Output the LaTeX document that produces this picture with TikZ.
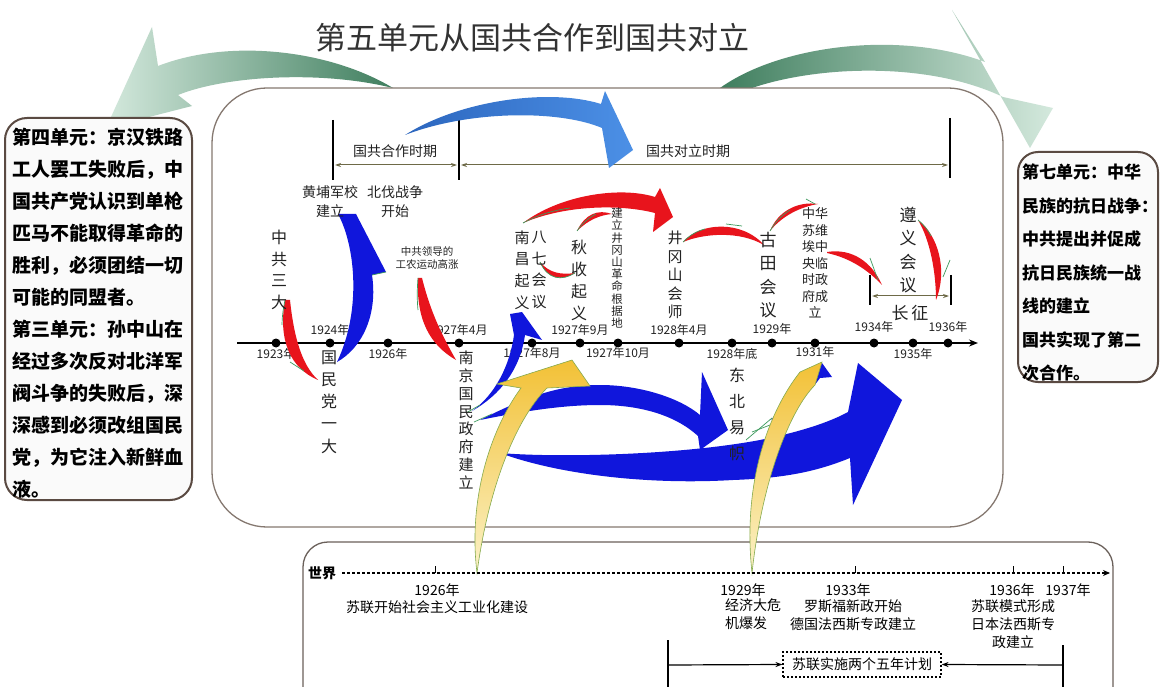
\documentclass[tikz,border=0pt]{standalone}
\usepackage{fontspec}
\setmainfont{Noto Sans CJK SC}
\usetikzlibrary{arrows.meta}
\definecolor{arcred}{HTML}{E8141C}
\definecolor{arcgreen}{HTML}{3C9A5C}
\definecolor{bigblue}{HTML}{1016DC}
\definecolor{topblueA}{HTML}{2C66BE}
\definecolor{topblueB}{HTML}{4C90E6}
\definecolor{gdark}{HTML}{3F7E5E}
\definecolor{glight}{HTML}{D4E9DD}
\definecolor{yel}{HTML}{F2C136}
\definecolor{yellight}{HTML}{FBF2C8}
\definecolor{boxbrown}{HTML}{5A4A42}
\definecolor{mainbox}{HTML}{857870}
\definecolor{olive}{HTML}{6E6A48}
\definecolor{txt}{HTML}{222222}
\begin{document}
\begin{tikzpicture}[x=1pt,y=-1pt,
  lbl/.style={inner sep=0pt,text=txt,font=\fontsize{12}{12}\selectfont},
  vt/.style 2 args={inner sep=0pt,align=center,text=txt,font=\fontsize{#1}{#2}\selectfont},
  wl/.style={inner sep=0pt,text=black,font=\fontsize{14}{18}\selectfont},
  redarc/.style={fill=arcred},
  greenedge/.style={draw=arcgreen,line width=0.7pt},
  bluearc/.style={fill=bigblue},
  bracket/.style={line width=1.8pt},
  period/.style={draw=olive,line width=1pt,{Stealth[length=6pt,width=4pt]}-{Stealth[length=6pt,width=4pt]}},
  unitbox/.style={draw=boxbrown,line width=2pt,fill=black!2,rounded corners=22pt},
  unittext/.style={anchor=north west,inner sep=0pt,align=left,font=\fontsize{19}{32}\selectfont\bfseries},
  yarrow/.style={top color=yel,bottom color=yellight,draw=arcgreen!60!yel,line width=0.6pt},
]
\clip (0,0) rectangle (1160,687);
\fill[white] (0,0) rectangle (1160,687);

% title
\node[font=\fontsize{31}{31}\selectfont,text=black!80] (title) at (532,38) {第五单元从国共合作到国共对立};

% big green arrows
\shade[left color=glight,right color=gdark] (393,88) .. controls (330,50) and (230,38) .. (158,66) -- (152,27) -- (106,128) -- (192,106) -- (178,95) .. controls (225,76) and (320,70) .. (393,88) -- cycle;
\shade[left color=gdark,right color=glight] (720,88) .. controls (780,45) and (900,30) .. (985,62) -- (952,10) -- (1030,148) -- (1053,108) -- (1003,97) .. controls (930,62) and (820,65) .. (752,88) -- cycle;

% boxes
\draw[mainbox,line width=1.3pt,rounded corners=55pt] (212,88) rectangle (1003,527);
\draw[unitbox] (5,118) rectangle (192,500);
\draw[unitbox,rounded corners=20pt] (1018,152) rectangle (1158,382);
\draw[mainbox!80!black,line width=1.3pt,rounded corners=25pt] (303,542) rectangle (1113,720);

\node[unittext] (unit34) at (12,128) {第四单元：京汉铁路\\工人罢工失败后，中\\国共产党认识到单枪\\匹马不能取得革命的\\胜利，必须团结一切\\可能的同盟者。\\第三单元：孙中山在\\经过多次反对北洋军\\阀斗争的失败后，深\\深感到必须改组国民\\党，为它注入新鲜血\\液。};
\node[unittext,font=\fontsize{17}{33.5}\selectfont\bfseries] (unit7) at (1022,164) {第七单元：中华\\民族的抗日战争：\\中共提出并促成\\抗日民族统一战\\线的建立\\国共实现了第二\\次合作。};

% period brackets
\draw[bracket] (333,120) -- (333,180);
\draw[bracket] (459,120) -- (459,180);
\draw[bracket] (950,118) -- (950,178);
\coordinate (p1a) at (335,165); \coordinate (p1b) at (457,165);
\coordinate (p2a) at (461,165); \coordinate (p2b) at (948,165);
\draw[period] (p1a) -- (p1b);
\draw[period] (p2a) -- (p2b);
\node[vt={14}{14}] (hz) at (395,151) {国共合作时期};
\node[vt={14}{14}] (dl) at (688,151) {国共对立时期};

% top blue arrow
\shade[left color=topblueA,right color=topblueB] (405,135) .. controls (460,100) and (550,88) .. (601,104) -- (605,91) -- (633,150) -- (609,168) -- (602,128) .. controls (560,110) and (470,110) .. (405,135) -- cycle;

% timeline
\coordinate (t0) at (237,343); \coordinate (t1) at (978,343);
\draw[line width=2.2pt,-{Stealth[length=9pt,width=7pt]}] (t0) -- (t1);
\foreach \x/\n in {276/a,330/b,388/c,459/d,532/e,580/f,618/g,679/h,732/i,772/j,815/k,874/l,913/m,948/n}{
  \coordinate (d\n) at (\x,343);
  \fill (d\n) circle (4.5pt);
}
\node[lbl] at (330,330) {1924年};
\node[lbl] at (459,330) {1927年4月};
\node[lbl] at (580,330) {1927年9月};
\node[lbl] at (679,330) {1928年4月};
\node[lbl] at (772,329) {1929年};
\node[lbl] at (874,327) {1934年};
\node[lbl] at (948,327) {1936年};
\node[lbl] at (276,354) {1923年};
\node[lbl] at (388,354) {1926年};
\node[lbl] at (532,353) {1927年8月};
\node[lbl] at (618,353) {1927年10月};
\node[lbl] at (732,354) {1928年底};
\node[lbl] at (815,352) {1931年};
\node[lbl] at (913,354) {1935年};

% long march bracket
\draw[bracket,line width=1.5pt] (870,275) -- (870,305);
\draw[bracket,line width=1.5pt] (951,275) -- (951,305);
\coordinate (lm1) at (872,296); \coordinate (lm2) at (949,296);
\draw[period] (lm1) -- (lm2);

% big blue arrows
\fill[bluearc] (500,453) .. controls (560,458) and (680,455) .. (760,440) .. controls (800,432) and (830,422) .. (848,412) -- (858,363) -- (902,400) -- (853,505) -- (850,458) .. controls (820,470) and (790,478) .. (733,480) .. controls (650,485) and (560,475) .. (500,453) -- cycle;
\fill[bluearc] (480,420) .. controls (530,395) and (560,385) .. (600,385) .. controls (640,385) and (680,398) .. (700,415) -- (702,372) -- (728,430) -- (700,450) -- (698,436) .. controls (675,415) and (640,405) .. (600,405) .. controls (560,405) and (520,412) .. (480,420) -- cycle;
\draw[greenedge] (474,422) -- (492,414);
\fill[bluearc] (472,411) .. controls (500,395) and (520,370) .. (525,335) -- (542,340) -- (522,312) -- (510,314) -- (514,335) .. controls (510,365) and (495,395) .. (472,411) -- cycle;
\draw[greenedge] (466,413) -- (480,405);
\fill[bluearc] (337,362) .. controls (362,348) and (378,315) .. (372,275) -- (386,272) -- (356,214) -- (338,214) .. controls (355,245) and (362,310) .. (337,362) -- cycle;
\draw[greenedge] (372,275) -- (386,272);
\fill[bluearc] (770,420) .. controls (790,405) and (805,385) .. (815,368) -- (822,363) -- (832,377) -- (820,378) .. controls (810,392) and (792,410) .. (770,420) -- cycle;
\draw[greenedge] (746,440) -- (772,418);
\draw[greenedge] (752,432) -- (770,425);

% yellow arrows
\shade[yarrow] (477,573) .. controls (468,500) and (490,430) .. (521,388) -- (497,384) -- (572,360) -- (590,386) -- (547,388) .. controls (515,420) and (488,490) .. (477,573) -- cycle;
\shade[yarrow] (752,573) .. controls (742,480) and (770,410) .. (800,372) -- (822,362) -- (815,385) .. controls (790,410) and (762,480) .. (752,573) -- cycle;

% red crescents
\fill[redarc] (285,300) .. controls (278,340) and (290,368) .. (318,380) .. controls (302,365) and (294,338) .. (290,300) -- cycle;
\draw[greenedge] (290,362) -- (304,371);
\draw[greenedge] (285,300) .. controls (283,310) and (282,318) .. (282,325);
\fill[redarc] (418,278) .. controls (416,320) and (430,345) .. (456,360) .. controls (446,342) and (432,318) .. (422,278) -- cycle;
\draw[greenedge] (418,278) .. controls (417,290) and (417,300) .. (418,310);
\fill[redarc] (523,223) .. controls (560,195) and (620,186) .. (655,197) -- (660,188) -- (673,217) -- (653,232) -- (655,213) .. controls (620,204) and (565,205) .. (523,223) -- cycle;
\draw[greenedge] (523,223) .. controls (540,214) and (555,210) .. (570,208);
\fill[redarc] (540,262) .. controls (548,280) and (562,281) .. (575,273) .. controls (561,275) and (549,273) .. (540,262) -- cycle;
\draw[greenedge] (540,262) .. controls (548,280) and (562,281) .. (575,273);
\fill[redarc] (577,231) .. controls (585,214) and (598,209) .. (612,214) .. controls (600,215) and (588,220) .. (577,231) -- cycle;
\draw[greenedge] (577,231) .. controls (583,222) and (590,217) .. (596,214);
\fill[redarc] (683,242) .. controls (700,222) and (742,220) .. (764,245) .. controls (740,231) and (705,233) .. (683,242) -- cycle;
\draw[greenedge] (683,242) .. controls (690,235) and (697,231) .. (705,229);
\draw[greenedge] (726,224) -- (742,226);
\fill[redarc] (770,231) .. controls (778,211) and (798,201) .. (818,204) .. controls (800,207) and (782,216) .. (770,231) -- cycle;
\draw[greenedge] (770,231) .. controls (775,222) and (782,215) .. (790,210);
\draw[greenedge] (806,199) -- (815,204);
\fill[redarc] (827,252) .. controls (852,248) and (872,262) .. (882,285) .. controls (868,270) and (850,258) .. (827,253) -- cycle;
\draw[greenedge] (870,258) -- (878,280);
\fill[redarc] (918,220) .. controls (938,235) and (948,270) .. (936,300) .. controls (936,272) and (930,240) .. (918,220) -- cycle;
\draw[greenedge] (943,277) -- (950,260);
\draw[greenedge] (918,220) .. controls (924,225) and (928,230) .. (931,236);

% vertical and other labels
\node[vt={16}{21.7}] (zg3) at (279,270) {中\\共\\三\\大};
\node[vt={16}{22.2}] (gmd1) at (329,402) {国\\民\\党\\一\\大};
\node[vt={15}{17.9}] (nj) at (466,420) {南\\京\\国\\民\\政\\府\\建\\立};
\node[vt={15}{21.7}] (nc) at (522,270) {南\\昌\\起\\义};
\node[vt={15}{21.7}] (b7) at (539,270) {八\\七\\会\\议};
\node[vt={16}{22}] (qs) at (579,280) {秋\\收\\起\\义};
\node[vt={11.5}{12.2}] (jgs) at (617,268) {建\\立\\井\\冈\\山\\革\\命\\根\\据\\地};
\node[vt={15}{18.5}] (hs) at (675,275) {井\\冈\\山\\会\\师};
\node[vt={17}{23.3}] (gt) at (768,275) {古\\田\\会\\议};
\node[vt={13}{16.5}] (sw) at (815,263) {中华\\苏维\\埃中\\央临\\时政\\府成\\立};
\node[vt={17}{23.3}] (zy) at (908,250) {遵\\义\\会\\议};
\node[vt={16}{26}] (db) at (737,414) {东\\北\\易\\帜};
\node[vt={17}{17}] (cz) at (910,313) {长\,征};
\node[vt={14}{19}] (hp) at (330,202) {黄埔军校\\建立};
\node[vt={14}{19}] (bf) at (395,202) {北伐战争\\开始};
\node[vt={10.5}{12.5}] (gn) at (427,258) {中共领导的\\工农运动高涨};

% world timeline
\node[wl,font=\fontsize{14}{14}\selectfont\bfseries] (world) at (322,573) {世界};
\coordinate (wend) at (1110,573);
\draw[line width=1.2pt,dash pattern=on 3pt off 2pt,-{Stealth[length=7pt,width=6pt]}] (world.east) ++(6,0) -- (wend);
\foreach \x in {435,855,1013,1063}{ \draw[line width=1pt] (\x,573) -- (\x,566); }
\node[wl] (w26) at (437,590) {1926年};
\node[wl] (w26t) at (437,607) {苏联开始社会主义工业化建设};
\node[wl] (w29) at (743,590) {1929年};
\node[wl,anchor=north west,align=left] (w29t) at (725,598) {经济大危\\机爆发};
\node[wl] (w33) at (848,590) {1933年};
\node[wl,align=center] (w33t) at (853,615) {罗斯福新政开始\\德国法西斯专政建立};
\node[wl] (w36) at (1012,590) {1936年};
\node[wl] (w37) at (1068,590) {1937年};
\node[wl,align=center] (w36t) at (1013,624) {苏联模式形成\\日本法西斯专\\政建立};
\node[wl,draw,dash pattern=on 2pt off 2pt,line width=1.1pt,inner sep=0pt,minimum width=158pt,minimum height=25pt] (plan) at (862,664.5) {苏联实施两个五年计划};
\coordinate (v1) at (668,665); \coordinate (v2) at (1063,665);
\draw[line width=1.2pt] (668,640) -- (668,700);
\draw[line width=1.2pt] (1063,645) -- (1063,700);
\draw[line width=1.2pt,-{Stealth[length=7pt,width=5pt]}] (v1) -- (plan.west);
\draw[line width=1.2pt,-{Stealth[length=7pt,width=5pt]}] (v2) -- (plan.east);
\end{tikzpicture}
\end{document}
